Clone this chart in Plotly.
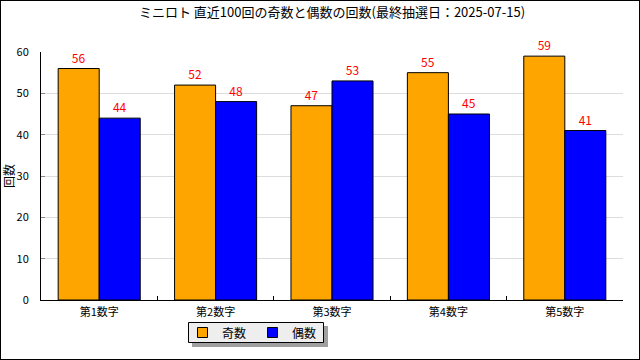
import plotly.graph_objects as go

categories = ["第1数字", "第2数字", "第3数字", "第4数字", "第5数字"]
odd_counts = [56, 52, 47, 55, 59]
even_counts = [44, 48, 53, 45, 41]
series_names = ["奇数", "偶数"]
series_colors = ["#FFA500", "#0000FF"]
title_text = "ミニロト 直近100回の奇数と偶数の回数(最終抽選日：2025-07-15)"

W, H = 640, 360
ML, MR, MT, MB = 41, 17, 52, 60
PW, PH = W - ML - MR, H - MT - MB
FONT = "Noto Sans CJK JP, DejaVu Sans, sans-serif"

fig = go.Figure()
for name, vals, col in zip(series_names, [odd_counts, even_counts], series_colors):
    fig.add_trace(go.Bar(
        x=categories, y=vals, name=name,
        marker=dict(color=col, line=dict(color="black", width=1)),
        text=[str(v) for v in vals], textposition="outside",
        textfont=dict(color="red", size=12, family=FONT),
        cliponaxis=False, hoverinfo="skip",
    ))

def px(x):
    return (x - ML) / PW

def py(y):
    return 1 - (y - MT) / PH

shapes = [
    # outer border
    dict(type="rect", xref="paper", yref="paper",
         x0=px(0), x1=px(W), y0=py(H), y1=py(0),
         line=dict(color="black", width=2), fillcolor="rgba(0,0,0,0)", layer="above"),
    # legend shadow
    dict(type="rect", xref="paper", yref="paper",
         x0=px(192), x1=px(328), y0=py(347), y1=py(326),
         line=dict(width=0), fillcolor="#A0A0A0", layer="above"),
    # legend box
    dict(type="rect", xref="paper", yref="paper",
         x0=px(188.5), x1=px(323.5), y0=py(342.5), y1=py(322.5),
         line=dict(color="black", width=1), fillcolor="#EEEEEE", layer="above"),
]
annotations = []
item_x = [197, 267]
for i, (name, col) in enumerate(zip(series_names, series_colors)):
    x0 = item_x[i]
    shapes.append(dict(type="rect", xref="paper", yref="paper",
                       x0=px(x0 + 0.5), x1=px(x0 + 10.5), y0=py(337.5), y1=py(327.5),
                       line=dict(color="black", width=1), fillcolor=col, layer="above"))
    annotations.append(dict(text=name, xref="paper", yref="paper",
                            x=px(x0 + 23), y=py(332.5), xanchor="left", yanchor="middle",
                            showarrow=False, font=dict(size=12, family=FONT, color="black")))

fig.update_layout(
    width=W, height=H,
    margin=dict(l=ML, r=MR, t=MT, b=MB, pad=0, autoexpand=False),
    paper_bgcolor="white", plot_bgcolor="white",
    font=dict(family=FONT, size=11, color="black"),
    title=dict(text=title_text, x=0.5, xanchor="center", xref="paper",
               y=1 - 12 / H, yanchor="middle", font=dict(size=13, family=FONT)),
    barmode="group", bargap=0.295, bargroupgap=0,
    showlegend=False,
    shapes=shapes,
    annotations=annotations,
    xaxis=dict(type="category", showline=True, linecolor="black", linewidth=1,
               ticks="inside", tickson="boundaries", ticklen=4, tickcolor="black",
               showgrid=False, tickfont=dict(size=11), ticklabelstandoff=2,
               fixedrange=True, automargin=False),
    yaxis=dict(range=[0, 60], dtick=10, showline=True, linecolor="black", linewidth=1,
               ticks="inside", ticklen=4, tickcolor="#888888",
               showgrid=True, gridcolor="#DDDDDD", gridwidth=1,
               zeroline=False, tickfont=dict(size=11), ticklabelstandoff=9,
               fixedrange=True, automargin=False,
               title=dict(text="回数", font=dict(size=12))),
)

fig.write_html("out.html", config={"displayModeBar": False},
               post_script="document.body.style.margin='0';")
